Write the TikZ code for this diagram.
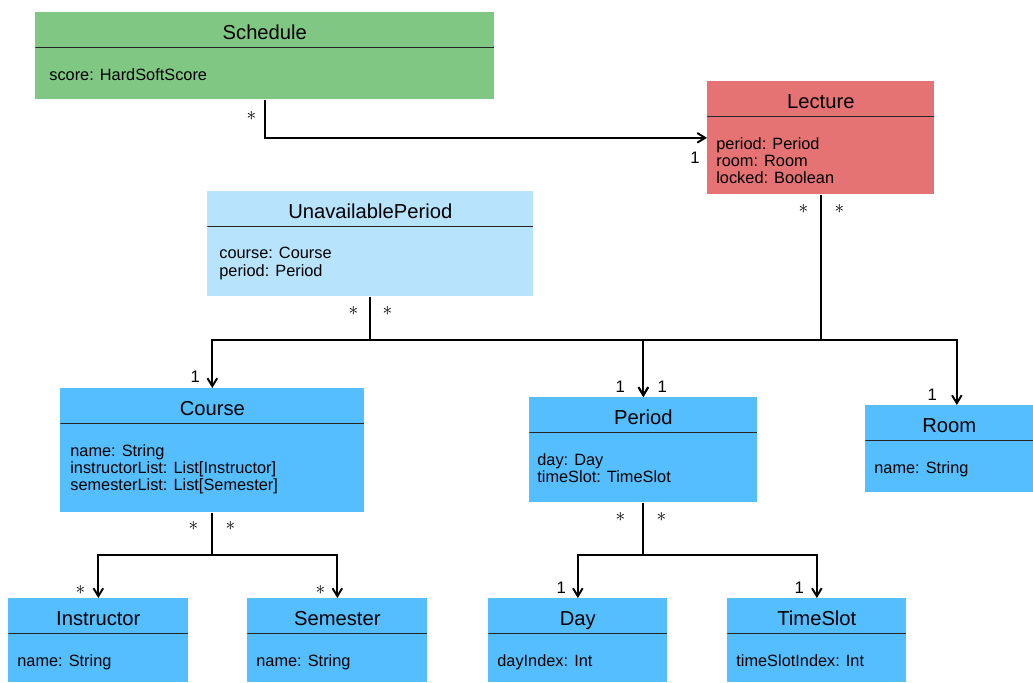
\documentclass[tikz,border=0pt]{standalone}
\usepackage{fontspec}
\setmainfont{Liberation Sans}
\usetikzlibrary{positioning,arrows.meta}
\definecolor{schedgreen}{HTML}{81C784}
\definecolor{lectred}{HTML}{E57373}
\definecolor{unavblue}{HTML}{B8E3FD}
\definecolor{clsblue}{HTML}{55BEFF}

\begin{document}
\begin{tikzpicture}[
  x=0.02cm, y=-0.02cm,
  cls/.style={anchor=north west, inner sep=0pt, fill=clsblue,
    path picture={\draw[line width=0.6pt, black!85]
      ([yshift=-0.71cm]path picture bounding box.north west) --
      ([yshift=-0.71cm]path picture bounding box.north east);}},
  ttl/.style={font=\fontsize{11.5}{13}\selectfont, inner sep=0pt, text height=8.2pt, text depth=0pt},
  attr/.style={font=\fontsize{9.3}{9.9}\selectfont, align=left, anchor=north west, inner sep=0pt},
  mult/.style={font=\fontsize{9.5}{11}\selectfont, inner sep=0pt},
  many/.style={font=\fontsize{11}{13}\selectfont, inner sep=0pt},
  arr/.style={-{Straight Barb[length=4.5pt, width=5.5pt]}, line width=1.1pt}
]
\useasboundingbox (0,0) rectangle (1033,682);

% classes
\node[cls, fill=schedgreen, minimum width=9.18cm, minimum height=1.74cm] (schedule) at (35,12) {};
\node[ttl] (schedule-t) at ([yshift=-0.4cm]schedule.north) {Schedule};
\node[attr] (schedule-a) at ([shift={(14,56)}]schedule.north west) {score: HardSoftScore};

\node[cls, fill=lectred, minimum width=4.54cm, minimum height=2.26cm] (lecture) at (707,81) {};
\node[ttl] (lecture-t) at ([yshift=-0.4cm]lecture.north) {Lecture};
\node[attr] (lecture-a) at ([shift={(9,56)}]lecture.north west) {period: Period\\room: Room\\locked: Boolean};

\node[cls, fill=unavblue, minimum width=6.52cm, minimum height=2.10cm] (unavail) at (207,191) {};
\node[ttl] (unavail-t) at ([yshift=-0.4cm]unavail.north) {UnavailablePeriod};
\node[attr] (unavail-a) at ([shift={(12,56)}]unavail.north west) {course: Course\\period: Period};

\node[cls, minimum width=6.08cm, minimum height=2.48cm] (course) at (60,388) {};
\node[ttl] (course-t) at ([yshift=-0.4cm]course.north) {Course};
\node[attr] (course-a) at ([shift={(10,56)}]course.north west) {name: String\\instructorList: List[Instructor]\\semesterList: List[Semester]};

\node[cls, minimum width=4.56cm, minimum height=2.10cm] (period) at (529,397) {};
\node[ttl] (period-t) at ([yshift=-0.4cm]period.north) {Period};
\node[attr] (period-a) at ([shift={(8,56)}]period.north west) {day: Day\\timeSlot: TimeSlot};

\node[cls, minimum width=3.36cm, minimum height=1.74cm] (room) at (865,405) {};
\node[ttl] (room-t) at ([yshift=-0.4cm]room.north) {Room};
\node[attr] (room-a) at ([shift={(9,56)}]room.north west) {name: String};

\node[cls, minimum width=3.60cm, minimum height=1.68cm] (instructor) at (8,598) {};
\node[ttl] (instructor-t) at ([yshift=-0.4cm]instructor.north) {Instructor};
\node[attr] (instructor-a) at ([shift={(9,56)}]instructor.north west) {name: String};

\node[cls, minimum width=3.60cm, minimum height=1.68cm] (semester) at (247,598) {};
\node[ttl] (semester-t) at ([yshift=-0.4cm]semester.north) {Semester};
\node[attr] (semester-a) at ([shift={(9,56)}]semester.north west) {name: String};

\node[cls, minimum width=3.58cm, minimum height=1.68cm] (day) at (488,598) {};
\node[ttl] (day-t) at ([yshift=-0.4cm]day.north) {Day};
\node[attr] (day-a) at ([shift={(9,56)}]day.north west) {dayIndex: Int};

\node[cls, minimum width=3.58cm, minimum height=1.68cm] (timeslot) at (727,598) {};
\node[ttl] (timeslot-t) at ([yshift=-0.4cm]timeslot.north) {TimeSlot};
\node[attr] (timeslot-a) at ([shift={(9,56)}]timeslot.north west) {timeSlotIndex: Int};

% connectors
\coordinate (bus) at (0,340);
\coordinate (fork) at (0,555);
\draw[arr] (schedule.south) |- (lecture.west);
\draw[arr] (lecture.south) -- (lecture.south |- bus) -| (period.north);
\draw[arr] (lecture.south) -- (lecture.south |- bus) -| ([xshift=0.15cm]room.north);
\draw[arr] (unavail.south) -- (unavail.south |- bus) -| (course.north);
\draw[arr] (unavail.south) -- (unavail.south |- bus) -| (period.north);
\draw[arr] (course.south) -- (course.south |- fork) -| (instructor.north);
\draw[arr] (course.south) -- (course.south |- fork) -| (semester.north);
\draw[arr] (period.south) -- (period.south |- fork) -| (day.north);
\draw[arr] (period.south) -- (period.south |- fork) -| (timeslot.north);

% multiplicities
\node[many] (m1) at ([shift={(-13.5,16)}]schedule.south) {$\ast$};
\node[mult] (m2) at ([shift={(-12,20)}]lecture.west) {1};
\node[many] (m3) at ([shift={(-17.5,14)}]lecture.south) {$\ast$};
\node[many] (m4) at ([shift={(18.5,14)}]lecture.south) {$\ast$};
\node[many] (m5) at ([shift={(-17,14)}]unavail.south) {$\ast$};
\node[many] (m6) at ([shift={(17,14)}]unavail.south) {$\ast$};
\node[mult] (m7) at ([shift={(-17,-11)}]course.north) {1};
\node[mult] (m8) at ([shift={(-23,-10)}]period.north) {1};
\node[mult] (m9) at ([shift={(19,-10)}]period.north) {1};
\node[mult] (m10) at ([shift={(-17,-10)}]room.north) {1};
\node[many] (m11) at ([shift={(-19,13)}]course.south) {$\ast$};
\node[many] (m12) at ([shift={(18,13)}]course.south) {$\ast$};
\node[many] (m13) at ([shift={(-18,-8)}]instructor.north) {$\ast$};
\node[many] (m14) at ([shift={(-17,-8)}]semester.north) {$\ast$};
\node[many] (m15) at ([shift={(-23,14)}]period.south) {$\ast$};
\node[many] (m16) at ([shift={(18,14)}]period.south) {$\ast$};
\node[mult] (m17) at ([shift={(-16.5,-10)}]day.north) {1};
\node[mult] (m18) at ([shift={(-17.5,-10)}]timeslot.north) {1};
\end{tikzpicture}
\end{document}
